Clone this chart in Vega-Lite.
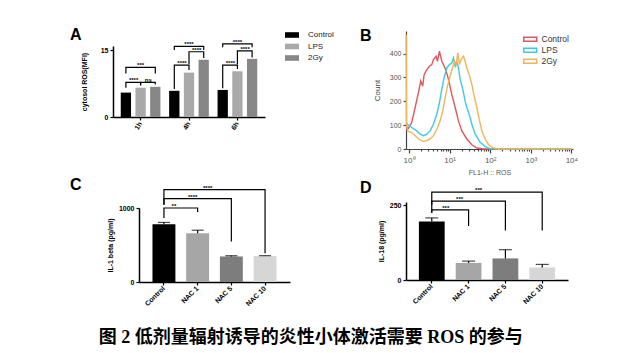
{
  "$schema": "https://vega.github.io/schema/vega-lite/v6.json",
  "background": "white",
  "padding": {"left": 70, "top": 27, "right": 5, "bottom": 8},
  "title": {"text": "图 2 低剂量辐射诱导的炎性小体激活需要 ROS 的参与", "orient": "bottom", "anchor": "middle", "frame": "bounds", "font": "Liberation Serif, Noto Sans CJK SC", "fontSize": 18, "fontWeight": "bold", "color": "#000", "offset": 22, "dx": -13},
  "config": {
    "font": "Liberation Sans",
    "view": {"stroke": null},
    "axis": {"grid": false, "domainColor": "#000", "tickColor": "#000", "labelColor": "#000", "titleColor": "#000", "labelFont": "Liberation Sans", "titleFont": "Liberation Sans", "labelFontSize": 7, "labelFontWeight": "bold", "titleFontSize": 7, "titleFontWeight": "bold", "domainWidth": 1.5, "tickWidth": 1.2, "tickSize": 3, "labelPadding": 2, "titlePadding": 5},
    "title": {"font": "Liberation Sans", "fontSize": 16, "fontWeight": "bold", "color": "#000", "anchor": "start", "frame": "group"}
  },
  "datasets": {
    "ros": [
      {"time": "1h", "group": "Control", "mfi": 5.5},
      {"time": "1h", "group": "LPS", "mfi": 6.6},
      {"time": "1h", "group": "2Gy", "mfi": 6.8},
      {"time": "4h", "group": "Control", "mfi": 5.9},
      {"time": "4h", "group": "LPS", "mfi": 10.0},
      {"time": "4h", "group": "2Gy", "mfi": 12.9},
      {"time": "6h", "group": "Control", "mfi": 6.1},
      {"time": "6h", "group": "LPS", "mfi": 10.3},
      {"time": "6h", "group": "2Gy", "mfi": 13.1}
    ],
    "rosBr": [
      {"id": "b1", "k": 1, "time": "1h", "group": "Control", "y": 6.6},
      {"id": "b1", "k": 2, "time": "1h", "group": "Control", "y": 7.8},
      {"id": "b1", "k": 3, "time": "1h", "group": "LPS", "y": 7.8},
      {"id": "b1", "k": 4, "time": "1h", "group": "LPS", "y": 7.1},
      {"id": "b2", "k": 1, "time": "1h", "group": "LPS", "y": 7.3},
      {"id": "b2", "k": 2, "time": "1h", "group": "LPS", "y": 7.8},
      {"id": "b2", "k": 3, "time": "1h", "group": "2Gy", "y": 7.8},
      {"id": "b2", "k": 4, "time": "1h", "group": "2Gy", "y": 7.3},
      {"id": "b3", "k": 1, "time": "1h", "group": "Control", "y": 9.8},
      {"id": "b3", "k": 2, "time": "1h", "group": "Control", "y": 11.2},
      {"id": "b3", "k": 3, "time": "1h", "group": "2Gy", "y": 11.2},
      {"id": "b3", "k": 4, "time": "1h", "group": "2Gy", "y": 9.8},
      {"id": "b4", "k": 1, "time": "4h", "group": "Control", "y": 6.3},
      {"id": "b4", "k": 2, "time": "4h", "group": "Control", "y": 11.7},
      {"id": "b4", "k": 3, "time": "4h", "group": "LPS", "y": 11.7},
      {"id": "b4", "k": 4, "time": "4h", "group": "LPS", "y": 10.6},
      {"id": "b5", "k": 1, "time": "4h", "group": "LPS", "y": 11.9},
      {"id": "b5", "k": 2, "time": "4h", "group": "LPS", "y": 14.7},
      {"id": "b5", "k": 3, "time": "4h", "group": "2Gy", "y": 14.7},
      {"id": "b5", "k": 4, "time": "4h", "group": "2Gy", "y": 13.3},
      {"id": "b6", "k": 1, "time": "4h", "group": "Control", "y": 15.1},
      {"id": "b6", "k": 2, "time": "4h", "group": "Control", "y": 15.9},
      {"id": "b6", "k": 3, "time": "4h", "group": "2Gy", "y": 15.9},
      {"id": "b6", "k": 4, "time": "4h", "group": "2Gy", "y": 15.1},
      {"id": "b7", "k": 1, "time": "6h", "group": "Control", "y": 6.5},
      {"id": "b7", "k": 2, "time": "6h", "group": "Control", "y": 11.7},
      {"id": "b7", "k": 3, "time": "6h", "group": "LPS", "y": 11.7},
      {"id": "b7", "k": 4, "time": "6h", "group": "LPS", "y": 10.8},
      {"id": "b8", "k": 1, "time": "6h", "group": "LPS", "y": 11.9},
      {"id": "b8", "k": 2, "time": "6h", "group": "LPS", "y": 14.9},
      {"id": "b8", "k": 3, "time": "6h", "group": "2Gy", "y": 14.9},
      {"id": "b8", "k": 4, "time": "6h", "group": "2Gy", "y": 13.4},
      {"id": "b9", "k": 1, "time": "6h", "group": "Control", "y": 15.7},
      {"id": "b9", "k": 2, "time": "6h", "group": "Control", "y": 16.5},
      {"id": "b9", "k": 3, "time": "6h", "group": "2Gy", "y": 16.5},
      {"id": "b9", "k": 4, "time": "6h", "group": "2Gy", "y": 15.7}
    ],
    "rosLab": [
      {"time": "1h", "group": "LPS", "kind": "half", "y": 7.8, "txt": "****"},
      {"time": "1h", "group": "2Gy", "kind": "half", "y": 7.8, "txt": "ns"},
      {"time": "1h", "group": "LPS", "kind": "full", "y": 11.2, "txt": "***"},
      {"time": "4h", "group": "LPS", "kind": "half", "y": 11.7, "txt": "****"},
      {"time": "4h", "group": "2Gy", "kind": "half", "y": 14.7, "txt": "****"},
      {"time": "4h", "group": "LPS", "kind": "full", "y": 15.9, "txt": "****"},
      {"time": "6h", "group": "LPS", "kind": "half", "y": 11.7, "txt": "****"},
      {"time": "6h", "group": "2Gy", "kind": "half", "y": 14.9, "txt": "****"},
      {"time": "6h", "group": "LPS", "kind": "full", "y": 16.5, "txt": "****"}
    ],
    "flow": [
      {"sample": "Control", "fl1": 0.86, "count": 100},
      {"sample": "Control", "fl1": 0.91, "count": 80},
      {"sample": "Control", "fl1": 1.16, "count": 111},
      {"sample": "Control", "fl1": 1.41, "count": 174},
      {"sample": "Control", "fl1": 1.70, "count": 236},
      {"sample": "Control", "fl1": 1.94, "count": 285},
      {"sample": "Control", "fl1": 2.17, "count": 264},
      {"sample": "Control", "fl1": 2.35, "count": 312},
      {"sample": "Control", "fl1": 2.73, "count": 333},
      {"sample": "Control", "fl1": 3.18, "count": 347},
      {"sample": "Control", "fl1": 3.63, "count": 354},
      {"sample": "Control", "fl1": 3.98, "count": 375},
      {"sample": "Control", "fl1": 4.64, "count": 389},
      {"sample": "Control", "fl1": 5.0, "count": 368},
      {"sample": "Control", "fl1": 5.61, "count": 410},
      {"sample": "Control", "fl1": 6.41, "count": 368},
      {"sample": "Control", "fl1": 7.04, "count": 354},
      {"sample": "Control", "fl1": 8.04, "count": 333},
      {"sample": "Control", "fl1": 9.36, "count": 292},
      {"sample": "Control", "fl1": 11.3, "count": 229},
      {"sample": "Control", "fl1": 13.7, "count": 174},
      {"sample": "Control", "fl1": 16.5, "count": 118},
      {"sample": "Control", "fl1": 20.0, "count": 76},
      {"sample": "Control", "fl1": 26.5, "count": 42},
      {"sample": "Control", "fl1": 35.3, "count": 18},
      {"sample": "Control", "fl1": 46.9, "count": 4},
      {"sample": "Control", "fl1": 68, "count": 0},
      {"sample": "Control", "fl1": 10000, "count": 0},
      {"sample": "LPS", "fl1": 0.86, "count": 110},
      {"sample": "LPS", "fl1": 0.91, "count": 104},
      {"sample": "LPS", "fl1": 1.16, "count": 90},
      {"sample": "LPS", "fl1": 1.55, "count": 76},
      {"sample": "LPS", "fl1": 1.87, "count": 62},
      {"sample": "LPS", "fl1": 2.26, "count": 56},
      {"sample": "LPS", "fl1": 2.73, "count": 62},
      {"sample": "LPS", "fl1": 3.30, "count": 76},
      {"sample": "LPS", "fl1": 3.98, "count": 104},
      {"sample": "LPS", "fl1": 4.82, "count": 146},
      {"sample": "LPS", "fl1": 5.61, "count": 194},
      {"sample": "LPS", "fl1": 6.41, "count": 250},
      {"sample": "LPS", "fl1": 7.31, "count": 299},
      {"sample": "LPS", "fl1": 8.51, "count": 340},
      {"sample": "LPS", "fl1": 9.91, "count": 354},
      {"sample": "LPS", "fl1": 11.3, "count": 361},
      {"sample": "LPS", "fl1": 12.4, "count": 382},
      {"sample": "LPS", "fl1": 13.7, "count": 347},
      {"sample": "LPS", "fl1": 15.0, "count": 368},
      {"sample": "LPS", "fl1": 16.5, "count": 340},
      {"sample": "LPS", "fl1": 18.2, "count": 292},
      {"sample": "LPS", "fl1": 21.1, "count": 250},
      {"sample": "LPS", "fl1": 24.1, "count": 201},
      {"sample": "LPS", "fl1": 26.5, "count": 174},
      {"sample": "LPS", "fl1": 30.3, "count": 146},
      {"sample": "LPS", "fl1": 35.3, "count": 104},
      {"sample": "LPS", "fl1": 42.6, "count": 62},
      {"sample": "LPS", "fl1": 56.6, "count": 28},
      {"sample": "LPS", "fl1": 75.3, "count": 10},
      {"sample": "LPS", "fl1": 100, "count": 1},
      {"sample": "LPS", "fl1": 10000, "count": 0},
      {"sample": "2Gy", "fl1": 0.85, "count": 480},
      {"sample": "2Gy", "fl1": 0.86, "count": 110},
      {"sample": "2Gy", "fl1": 0.91, "count": 76},
      {"sample": "2Gy", "fl1": 1.16, "count": 69},
      {"sample": "2Gy", "fl1": 1.55, "count": 49},
      {"sample": "2Gy", "fl1": 1.87, "count": 38},
      {"sample": "2Gy", "fl1": 2.26, "count": 32},
      {"sample": "2Gy", "fl1": 2.73, "count": 35},
      {"sample": "2Gy", "fl1": 3.30, "count": 42},
      {"sample": "2Gy", "fl1": 3.98, "count": 56},
      {"sample": "2Gy", "fl1": 4.82, "count": 83},
      {"sample": "2Gy", "fl1": 5.83, "count": 118},
      {"sample": "2Gy", "fl1": 6.78, "count": 160},
      {"sample": "2Gy", "fl1": 7.74, "count": 215},
      {"sample": "2Gy", "fl1": 8.84, "count": 264},
      {"sample": "2Gy", "fl1": 10.3, "count": 306},
      {"sample": "2Gy", "fl1": 11.7, "count": 340},
      {"sample": "2Gy", "fl1": 13.2, "count": 368},
      {"sample": "2Gy", "fl1": 14.5, "count": 354},
      {"sample": "2Gy", "fl1": 15.9, "count": 403},
      {"sample": "2Gy", "fl1": 17.5, "count": 354},
      {"sample": "2Gy", "fl1": 19.2, "count": 375},
      {"sample": "2Gy", "fl1": 22.0, "count": 389},
      {"sample": "2Gy", "fl1": 24.1, "count": 368},
      {"sample": "2Gy", "fl1": 26.5, "count": 340},
      {"sample": "2Gy", "fl1": 30.3, "count": 312},
      {"sample": "2Gy", "fl1": 35.3, "count": 271},
      {"sample": "2Gy", "fl1": 40.3, "count": 222},
      {"sample": "2Gy", "fl1": 46.9, "count": 174},
      {"sample": "2Gy", "fl1": 53.5, "count": 125},
      {"sample": "2Gy", "fl1": 62.3, "count": 76},
      {"sample": "2Gy", "fl1": 75.3, "count": 42},
      {"sample": "2Gy", "fl1": 91, "count": 18},
      {"sample": "2Gy", "fl1": 121, "count": 4},
      {"sample": "2Gy", "fl1": 159, "count": 0},
      {"sample": "2Gy", "fl1": 10000, "count": 0}
    ],
    "il1b": [
      {"trt": "Control", "v": 780, "hi": 805},
      {"trt": "NAC 1", "v": 660, "hi": 700},
      {"trt": "NAC 5", "v": 345, "hi": 355},
      {"trt": "NAC 10", "v": 350, "hi": 356}
    ],
    "il1bBr": [
      {"id": "c1", "k": 1, "trt": "Control", "y": 865},
      {"id": "c1", "k": 2, "trt": "Control", "y": 1000},
      {"id": "c1", "k": 3, "trt": "NAC 1", "y": 1000},
      {"id": "c1", "k": 4, "trt": "NAC 1", "y": 945},
      {"id": "c2", "k": 1, "trt": "Control", "y": 1045},
      {"id": "c2", "k": 2, "trt": "Control", "y": 1126},
      {"id": "c2", "k": 3, "trt": "NAC 5", "y": 1126},
      {"id": "c2", "k": 4, "trt": "NAC 5", "y": 547},
      {"id": "c3", "k": 1, "trt": "Control", "y": 1045},
      {"id": "c3", "k": 2, "trt": "Control", "y": 1248},
      {"id": "c3", "k": 3, "trt": "NAC 10", "y": 1248},
      {"id": "c3", "k": 4, "trt": "NAC 10", "y": 389}
    ],
    "il1bLab": [
      {"trt": "Control", "kind": "p", "y": 1000, "txt": "**"},
      {"trt": "NAC 1", "kind": "m", "y": 1126, "txt": "****"},
      {"trt": "NAC 1", "kind": "q", "y": 1248, "txt": "****"}
    ],
    "il18": [
      {"trt": "Control", "v": 195, "hi": 207},
      {"trt": "NAC 1", "v": 57, "hi": 63},
      {"trt": "NAC 5", "v": 72, "hi": 101},
      {"trt": "NAC 10", "v": 42, "hi": 52}
    ],
    "il18Br": [
      {"id": "d1", "k": 1, "trt": "Control", "y": 223},
      {"id": "d1", "k": 2, "trt": "Control", "y": 234},
      {"id": "d1", "k": 3, "trt": "NAC 1", "y": 234},
      {"id": "d1", "k": 4, "trt": "NAC 1", "y": 180},
      {"id": "d2", "k": 1, "trt": "Control", "y": 250},
      {"id": "d2", "k": 2, "trt": "Control", "y": 263},
      {"id": "d2", "k": 3, "trt": "NAC 5", "y": 263},
      {"id": "d2", "k": 4, "trt": "NAC 5", "y": 165},
      {"id": "d3", "k": 1, "trt": "Control", "y": 225},
      {"id": "d3", "k": 2, "trt": "Control", "y": 293},
      {"id": "d3", "k": 3, "trt": "NAC 10", "y": 293},
      {"id": "d3", "k": 4, "trt": "NAC 10", "y": 165}
    ],
    "il18Lab": [
      {"trt": "Control", "kind": "p", "y": 234, "txt": "***"},
      {"trt": "NAC 1", "kind": "m", "y": 263, "txt": "***"},
      {"trt": "NAC 1", "kind": "q", "y": 293, "txt": "***"}
    ]
  },
  "columns": 2,
  "align": {"row": "each", "column": "none"},
  "spacing": {"row": 1, "column": 26},
  "concat": [
    {
      "width": 152,
      "height": 86,
      "title": {"text": "A", "dx": -43, "offset": -12},
      "layer": [
        {
          "data": {"name": "ros"},
          "mark": {"type": "bar"},
          "encoding": {
            "x": {"field": "time", "type": "nominal", "scale": {"paddingInner": 0.18, "paddingOuter": 0.16}, "axis": {"title": null, "labelAngle": -60, "labelAlign": "right", "labelBaseline": "middle"}},
            "xOffset": {"field": "group", "type": "nominal", "scale": {"domain": ["Control", "LPS", "2Gy"], "paddingInner": 0.3, "paddingOuter": 0}},
            "y": {"field": "mfi", "type": "quantitative", "scale": {"domain": [0, 15], "range": [86, 15]}, "axis": {"values": [0, 5, 10, 15], "title": "cytosol ROS(MFI)", "titlePadding": 13}},
            "color": {"field": "group", "type": "nominal", "scale": {"domain": ["Control", "LPS", "2Gy"], "range": ["#000000", "#a9a9a9", "#878787"]}, "legend": {"title": null, "orient": "right", "offset": 23, "symbolType": "M-2,-0.8H2V0.8H-2Z", "symbolSize": 49, "labelOffset": 12, "labelFontSize": 8, "labelFontWeight": "normal", "labelColor": "#222", "rowPadding": 3.5, "symbolStrokeWidth": 0, "padding": 0}}
          }
        },
        {
          "data": {"name": "rosBr"},
          "mark": {"type": "line", "color": "#000", "strokeWidth": 1.2},
          "encoding": {
            "x": {"field": "time", "type": "nominal"},
            "xOffset": {"field": "group", "type": "nominal"},
            "y": {"field": "y", "type": "quantitative"},
            "detail": {"field": "id"},
            "order": {"field": "k"}
          }
        },
        {
          "data": {"name": "rosLab"},
          "transform": [{"filter": "datum.kind == 'half'"}],
          "mark": {"type": "text", "fontSize": 6, "fontWeight": "bold", "baseline": "bottom", "dx": -7, "dy": 1},
          "encoding": {
            "x": {"field": "time", "type": "nominal"},
            "xOffset": {"field": "group", "type": "nominal"},
            "y": {"field": "y", "type": "quantitative"},
            "text": {"field": "txt"}
          }
        },
        {
          "data": {"name": "rosLab"},
          "transform": [{"filter": "datum.kind == 'full'"}],
          "mark": {"type": "text", "fontSize": 6, "fontWeight": "bold", "baseline": "bottom", "dx": 0, "dy": 1},
          "encoding": {
            "x": {"field": "time", "type": "nominal"},
            "xOffset": {"field": "group", "type": "nominal"},
            "y": {"field": "y", "type": "quantitative"},
            "text": {"field": "txt"}
          }
        }
      ]
    },
    {
      "width": 167,
      "height": 118,
      "title": {"text": "B", "dx": -46, "offset": -13},
      "data": {"name": "flow"},
      "mark": {"type": "line", "strokeWidth": 1.4, "interpolate": "linear"},
      "encoding": {
        "x": {"field": "fl1", "type": "quantitative", "scale": {"type": "log", "domain": [0.84, 11000]}, "axis": {"values": [1, 2, 3, 4, 5, 6, 7, 8, 9, 10, 20, 30, 40, 50, 60, 70, 80, 90, 100, 200, 300, 400, 500, 600, 700, 800, 900, 1000, 2000, 3000, 4000, 5000, 6000, 7000, 8000, 9000, 10000], "labelExpr": "abs(log(datum.value)/LN10 - round(log(datum.value)/LN10)) < 0.001 ? '10' + ['⁰','¹','²','³','⁴'][round(log(datum.value)/LN10)] : ''", "labelOverlap": false, "tickSize": {"condition": {"test": "abs(log(datum.value)/LN10 - round(log(datum.value)/LN10)) < 0.001", "value": 4}, "value": 2}, "title": "FL1-H :: ROS", "labelFontWeight": "normal", "labelColor": "#555", "titleFontWeight": "normal", "titleColor": "#555", "labelFontSize": 8, "domainColor": "#444", "tickColor": "#444", "domainWidth": 1.2, "labelPadding": 3, "titlePadding": 4}},
        "y": {"field": "count", "type": "quantitative", "scale": {"domain": [0, 495]}, "axis": {"values": [0, 100, 200, 300, 400], "title": "Count", "labelFontWeight": "normal", "labelColor": "#555", "titleFontWeight": "normal", "titleColor": "#444", "titleFontSize": 8, "domainColor": "#444", "tickColor": "#444", "domainWidth": 1.2, "titlePadding": 8}},
        "color": {"field": "sample", "type": "nominal", "scale": {"domain": ["Control", "LPS", "2Gy"], "range": ["#e0585c", "#3ccbe6", "#f0b45a"]}, "legend": {"title": null, "orient": "top-right", "offset": 4, "symbolType": "M-2,-0.6H2V0.6H-2Z", "symbolSize": 42, "symbolStrokeWidth": 1.5, "symbolFillColor": "white", "labelOffset": 7, "labelFontSize": 8.5, "labelColor": "#333", "rowPadding": 0, "padding": 0}},
        "order": {"field": "fl1", "type": "quantitative"}
      }
    },
    {
      "width": 177,
      "height": 80,
      "title": {"text": "C", "dx": -43, "offset": -8},
      "layer": [
        {
          "data": {"name": "il1b"},
          "mark": {"type": "bar"},
          "encoding": {
            "x": {"field": "trt", "type": "nominal", "sort": null, "scale": {"paddingInner": 0.32, "paddingOuter": 0.4, "range": [26, 177]}, "axis": {"title": null, "labelAngle": -45, "labelAlign": "right", "labelBaseline": "middle"}},
            "y": {"field": "v", "type": "quantitative", "scale": {"domain": [0, 1000], "range": [80, 6]}, "axis": {"values": [0, 200, 400, 600, 800, 1000], "format": "d", "title": "IL-1 beta (pg/ml)", "offset": -26}},
            "color": {"field": "trt", "type": "nominal", "scale": {"domain": ["Control", "NAC 1", "NAC 5", "NAC 10"], "range": ["#000000", "#a6a6a6", "#7d7d7d", "#d6d6d6"]}, "legend": null}
          }
        },
        {
          "data": {"name": "il1b"},
          "mark": {"type": "rule", "color": "#000", "strokeWidth": 1.2},
          "encoding": {"x": {"field": "trt", "type": "nominal", "sort": null}, "y": {"field": "v", "type": "quantitative"}, "y2": {"field": "hi"}}
        },
        {
          "data": {"name": "il1b"},
          "mark": {"type": "tick", "color": "#000", "thickness": 1.2, "size": 12},
          "encoding": {"x": {"field": "trt", "type": "nominal", "sort": null}, "y": {"field": "hi", "type": "quantitative"}}
        },
        {
          "data": {"name": "il1bBr"},
          "mark": {"type": "line", "color": "#000", "strokeWidth": 1.2},
          "encoding": {"x": {"field": "trt", "type": "nominal", "sort": null}, "y": {"field": "y", "type": "quantitative"}, "detail": {"field": "id"}, "order": {"field": "k"}}
        },
        {
          "data": {"name": "il1bLab"},
          "transform": [{"filter": "datum.kind == 'p'"}],
          "mark": {"type": "text", "fontSize": 6, "fontWeight": "bold", "baseline": "bottom", "dx": 10, "dy": 1},
          "encoding": {"x": {"field": "trt", "type": "nominal", "sort": null}, "y": {"field": "y", "type": "quantitative"}, "text": {"field": "txt"}}
        },
        {
          "data": {"name": "il1bLab"},
          "transform": [{"filter": "datum.kind == 'm'"}],
          "mark": {"type": "text", "fontSize": 6, "fontWeight": "bold", "baseline": "bottom", "dx": -5, "dy": 1},
          "encoding": {"x": {"field": "trt", "type": "nominal", "sort": null}, "y": {"field": "y", "type": "quantitative"}, "text": {"field": "txt"}}
        },
        {
          "data": {"name": "il1bLab"},
          "transform": [{"filter": "datum.kind == 'q'"}],
          "mark": {"type": "text", "fontSize": 6, "fontWeight": "bold", "baseline": "bottom", "dx": 10, "dy": 1},
          "encoding": {"x": {"field": "trt", "type": "nominal", "sort": null}, "y": {"field": "y", "type": "quantitative"}, "text": {"field": "txt"}}
        }
      ]
    },
    {
      "width": 162,
      "height": 78,
      "title": {"text": "D", "dx": -46, "offset": -9},
      "layer": [
        {
          "data": {"name": "il18"},
          "mark": {"type": "bar"},
          "encoding": {
            "x": {"field": "trt", "type": "nominal", "sort": null, "scale": {"paddingInner": 0.3, "paddingOuter": 0.35}, "axis": {"title": null, "labelAngle": -45, "labelAlign": "right", "labelBaseline": "middle"}},
            "y": {"field": "v", "type": "quantitative", "scale": {"domain": [0, 250]}, "axis": {"values": [0, 50, 100, 150, 200, 250], "title": "IL-18 (pg/ml)"}},
            "color": {"field": "trt", "type": "nominal", "scale": {"domain": ["Control", "NAC 1", "NAC 5", "NAC 10"], "range": ["#000000", "#a6a6a6", "#7d7d7d", "#d6d6d6"]}, "legend": null}
          }
        },
        {
          "data": {"name": "il18"},
          "mark": {"type": "rule", "color": "#000", "strokeWidth": 1.2},
          "encoding": {"x": {"field": "trt", "type": "nominal", "sort": null}, "y": {"field": "v", "type": "quantitative"}, "y2": {"field": "hi"}}
        },
        {
          "data": {"name": "il18"},
          "mark": {"type": "tick", "color": "#000", "thickness": 1.2, "size": 13},
          "encoding": {"x": {"field": "trt", "type": "nominal", "sort": null}, "y": {"field": "hi", "type": "quantitative"}}
        },
        {
          "data": {"name": "il18Br"},
          "mark": {"type": "line", "color": "#000", "strokeWidth": 1.2},
          "encoding": {"x": {"field": "trt", "type": "nominal", "sort": null}, "y": {"field": "y", "type": "quantitative"}, "detail": {"field": "id"}, "order": {"field": "k"}}
        },
        {
          "data": {"name": "il18Lab"},
          "transform": [{"filter": "datum.kind == 'p'"}],
          "mark": {"type": "text", "fontSize": 6, "fontWeight": "bold", "baseline": "bottom", "dx": 14, "dy": 1},
          "encoding": {"x": {"field": "trt", "type": "nominal", "sort": null}, "y": {"field": "y", "type": "quantitative"}, "text": {"field": "txt"}}
        },
        {
          "data": {"name": "il18Lab"},
          "transform": [{"filter": "datum.kind == 'm'"}],
          "mark": {"type": "text", "fontSize": 6, "fontWeight": "bold", "baseline": "bottom", "dx": -9, "dy": 1},
          "encoding": {"x": {"field": "trt", "type": "nominal", "sort": null}, "y": {"field": "y", "type": "quantitative"}, "text": {"field": "txt"}}
        },
        {
          "data": {"name": "il18Lab"},
          "transform": [{"filter": "datum.kind == 'q'"}],
          "mark": {"type": "text", "fontSize": 6, "fontWeight": "bold", "baseline": "bottom", "dx": 10, "dy": 1},
          "encoding": {"x": {"field": "trt", "type": "nominal", "sort": null}, "y": {"field": "y", "type": "quantitative"}, "text": {"field": "txt"}}
        }
      ]
    }
  ],
  "resolve": {"scale": {"color": "independent", "x": "independent", "y": "independent"}, "legend": {"color": "independent"}}
}
